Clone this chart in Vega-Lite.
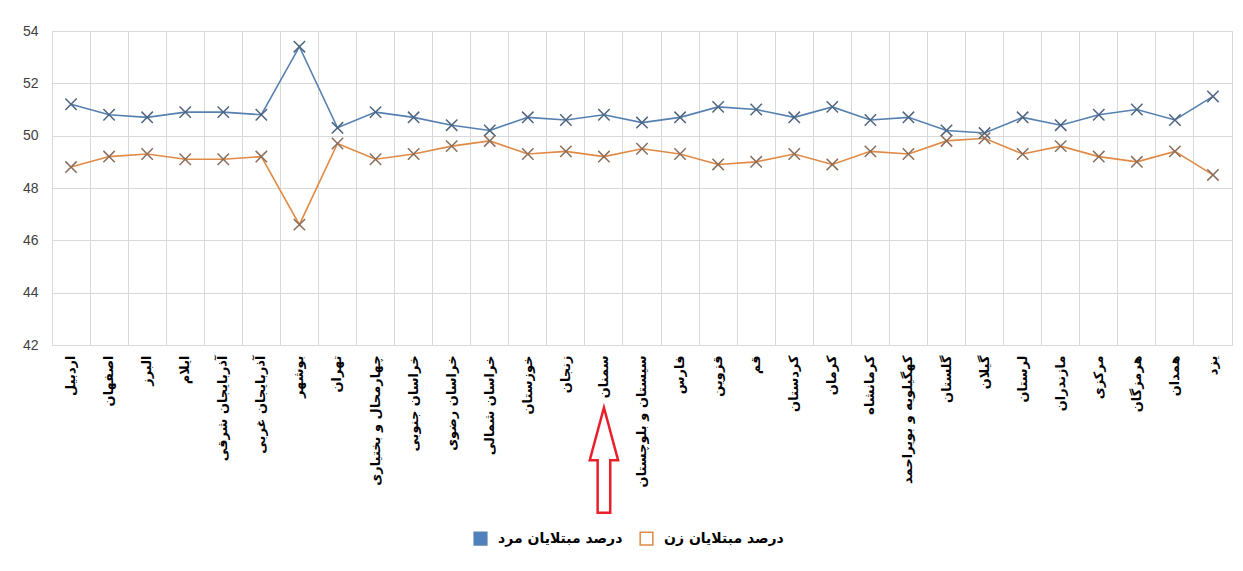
{
  "$schema": "https://vega.github.io/schema/vega-lite/v6.json",
  "width": 1180,
  "height": 314,
  "padding": {"left": 22, "top": 24, "right": 11, "bottom": 5},
  "background": "white",
  "config": {
    "view": {"stroke": "#d9d9d9"},
    "font": "DejaVu Sans"
  },
  "data": {
    "values": [
      {"province": "اردبیل", "gender": "درصد مبتلایان مرد", "value": 51.2},
      {"province": "اصفهان", "gender": "درصد مبتلایان مرد", "value": 50.8},
      {"province": "البرز", "gender": "درصد مبتلایان مرد", "value": 50.7},
      {"province": "ایلام", "gender": "درصد مبتلایان مرد", "value": 50.9},
      {"province": "آذربایجان شرقی", "gender": "درصد مبتلایان مرد", "value": 50.9},
      {"province": "آذربایجان غربی", "gender": "درصد مبتلایان مرد", "value": 50.8},
      {"province": "بوشهر", "gender": "درصد مبتلایان مرد", "value": 53.4},
      {"province": "تهران", "gender": "درصد مبتلایان مرد", "value": 50.3},
      {"province": "چهارمحال و بختیاری", "gender": "درصد مبتلایان مرد", "value": 50.9},
      {"province": "خراسان جنوبی", "gender": "درصد مبتلایان مرد", "value": 50.7},
      {"province": "خراسان رضوی", "gender": "درصد مبتلایان مرد", "value": 50.4},
      {"province": "خراسان شمالی", "gender": "درصد مبتلایان مرد", "value": 50.2},
      {"province": "خوزستان", "gender": "درصد مبتلایان مرد", "value": 50.7},
      {"province": "زنجان", "gender": "درصد مبتلایان مرد", "value": 50.6},
      {"province": "سمنان", "gender": "درصد مبتلایان مرد", "value": 50.8},
      {"province": "سیستان و بلوچستان", "gender": "درصد مبتلایان مرد", "value": 50.5},
      {"province": "فارس", "gender": "درصد مبتلایان مرد", "value": 50.7},
      {"province": "قزوین", "gender": "درصد مبتلایان مرد", "value": 51.1},
      {"province": "قم", "gender": "درصد مبتلایان مرد", "value": 51.0},
      {"province": "کردستان", "gender": "درصد مبتلایان مرد", "value": 50.7},
      {"province": "کرمان", "gender": "درصد مبتلایان مرد", "value": 51.1},
      {"province": "کرمانشاه", "gender": "درصد مبتلایان مرد", "value": 50.6},
      {"province": "کهگیلویه و بویراحمد", "gender": "درصد مبتلایان مرد", "value": 50.7},
      {"province": "گلستان", "gender": "درصد مبتلایان مرد", "value": 50.2},
      {"province": "گیلان", "gender": "درصد مبتلایان مرد", "value": 50.1},
      {"province": "لرستان", "gender": "درصد مبتلایان مرد", "value": 50.7},
      {"province": "مازندران", "gender": "درصد مبتلایان مرد", "value": 50.4},
      {"province": "مرکزی", "gender": "درصد مبتلایان مرد", "value": 50.8},
      {"province": "هرمزگان", "gender": "درصد مبتلایان مرد", "value": 51.0},
      {"province": "همدان", "gender": "درصد مبتلایان مرد", "value": 50.6},
      {"province": "یزد", "gender": "درصد مبتلایان مرد", "value": 51.5},
      {"province": "اردبیل", "gender": "درصد مبتلایان زن", "value": 48.8},
      {"province": "اصفهان", "gender": "درصد مبتلایان زن", "value": 49.2},
      {"province": "البرز", "gender": "درصد مبتلایان زن", "value": 49.3},
      {"province": "ایلام", "gender": "درصد مبتلایان زن", "value": 49.1},
      {"province": "آذربایجان شرقی", "gender": "درصد مبتلایان زن", "value": 49.1},
      {"province": "آذربایجان غربی", "gender": "درصد مبتلایان زن", "value": 49.2},
      {"province": "بوشهر", "gender": "درصد مبتلایان زن", "value": 46.6},
      {"province": "تهران", "gender": "درصد مبتلایان زن", "value": 49.7},
      {"province": "چهارمحال و بختیاری", "gender": "درصد مبتلایان زن", "value": 49.1},
      {"province": "خراسان جنوبی", "gender": "درصد مبتلایان زن", "value": 49.3},
      {"province": "خراسان رضوی", "gender": "درصد مبتلایان زن", "value": 49.6},
      {"province": "خراسان شمالی", "gender": "درصد مبتلایان زن", "value": 49.8},
      {"province": "خوزستان", "gender": "درصد مبتلایان زن", "value": 49.3},
      {"province": "زنجان", "gender": "درصد مبتلایان زن", "value": 49.4},
      {"province": "سمنان", "gender": "درصد مبتلایان زن", "value": 49.2},
      {"province": "سیستان و بلوچستان", "gender": "درصد مبتلایان زن", "value": 49.5},
      {"province": "فارس", "gender": "درصد مبتلایان زن", "value": 49.3},
      {"province": "قزوین", "gender": "درصد مبتلایان زن", "value": 48.9},
      {"province": "قم", "gender": "درصد مبتلایان زن", "value": 49.0},
      {"province": "کردستان", "gender": "درصد مبتلایان زن", "value": 49.3},
      {"province": "کرمان", "gender": "درصد مبتلایان زن", "value": 48.9},
      {"province": "کرمانشاه", "gender": "درصد مبتلایان زن", "value": 49.4},
      {"province": "کهگیلویه و بویراحمد", "gender": "درصد مبتلایان زن", "value": 49.3},
      {"province": "گلستان", "gender": "درصد مبتلایان زن", "value": 49.8},
      {"province": "گیلان", "gender": "درصد مبتلایان زن", "value": 49.9},
      {"province": "لرستان", "gender": "درصد مبتلایان زن", "value": 49.3},
      {"province": "مازندران", "gender": "درصد مبتلایان زن", "value": 49.6},
      {"province": "مرکزی", "gender": "درصد مبتلایان زن", "value": 49.2},
      {"province": "هرمزگان", "gender": "درصد مبتلایان زن", "value": 49.0},
      {"province": "همدان", "gender": "درصد مبتلایان زن", "value": 49.4},
      {"province": "یزد", "gender": "درصد مبتلایان زن", "value": 48.5}
    ]
  },
  "encoding": {
    "x": {
      "field": "province",
      "type": "nominal",
      "sort": null,
      "scale": {
        "type": "band",
        "paddingInner": 0,
        "paddingOuter": 0,
        "domain": ["اردبیل", "اصفهان", "البرز", "ایلام", "آذربایجان شرقی", "آذربایجان غربی", "بوشهر", "تهران", "چهارمحال و بختیاری", "خراسان جنوبی", "خراسان رضوی", "خراسان شمالی", "خوزستان", "زنجان", "سمنان", "سیستان و بلوچستان", "فارس", "قزوین", "قم", "کردستان", "کرمان", "کرمانشاه", "کهگیلویه و بویراحمد", "گلستان", "گیلان", "لرستان", "مازندران", "مرکزی", "هرمزگان", "همدان", "یزد"]
      },
      "axis": {
        "title": null,
        "grid": true,
        "gridColor": "#d9d9d9",
        "bandPosition": 0,
        "ticks": false,
        "domainColor": "#d9d9d9",
        "labelAngle": -90,
        "labelPadding": 10,
        "labelFont": "DejaVu Sans",
        "labelFontWeight": "bold",
        "labelFontSize": 13,
        "labelColor": "#000000",
        "labelLimit": 200
      }
    },
    "y": {
      "field": "value",
      "type": "quantitative",
      "scale": {"domain": [42, 54], "nice": false, "zero": false},
      "axis": {
        "title": null,
        "values": [42, 44, 46, 48, 50, 52, 54],
        "grid": true,
        "gridColor": "#d9d9d9",
        "domain": false,
        "ticks": false,
        "labelPadding": 14,
        "labelFont": "Liberation Sans",
        "labelFontSize": 14,
        "labelColor": "#404040"
      }
    }
  },
  "layer": [
    {
      "mark": {"type": "line", "strokeWidth": 1.6},
      "encoding": {
        "color": {
          "field": "gender",
          "type": "nominal",
          "scale": {
            "domain": ["درصد مبتلایان مرد", "درصد مبتلایان زن"],
            "range": ["#5680b0", "#e08a45"]
          },
          "legend": {
            "orient": "none",
            "legendX": 421,
            "legendY": 500,
            "direction": "horizontal",
            "title": null,
            "symbolType": "square",
            "symbolSize": 160,
            "symbolStrokeWidth": 1.5,
            "labelFont": "DejaVu Sans",
            "labelFontWeight": "bold",
            "labelFontSize": 14,
            "labelColor": "#000000",
            "columnPadding": 14,
            "labelOffset": 10,
            "encode": {
              "symbols": {
                "update": {
                  "fill": {"signal": "datum.value === 'درصد مبتلایان زن' ? '#ffffff' : '#4f81bd'"},
                  "stroke": {"signal": "datum.value === 'درصد مبتلایان زن' ? '#c8914f' : '#3a6aa0'"},
                  "opacity": {"value": 1}
                }
              }
            }
          }
        }
      }
    },
    {
      "mark": {
        "type": "point",
        "shape": "M-1,-1L1,1M-1,1L1,-1",
        "size": 130,
        "strokeWidth": 1.5,
        "filled": false,
        "opacity": 1
      },
      "encoding": {
        "stroke": {
          "field": "gender",
          "type": "nominal",
          "scale": {
            "domain": ["درصد مبتلایان مرد", "درصد مبتلایان زن"],
            "range": ["#4d6580", "#8a6d5a"]
          },
          "legend": null
        }
      }
    },
    {
      "data": {"values": [{"province": "سمنان", "level": 37.6}]},
      "mark": {
        "type": "point",
        "shape": "M0,-1L0.27,0L0.12,0L0.12,1L-0.12,1L-0.12,0L-0.27,0Z",
        "size": 11025,
        "filled": true,
        "fill": "#ffffff",
        "stroke": "#e8202a",
        "strokeWidth": 2.5,
        "opacity": 1,
        "clip": false
      },
      "encoding": {
        "y": {"field": "level", "type": "quantitative"}
      }
    }
  ]
}
